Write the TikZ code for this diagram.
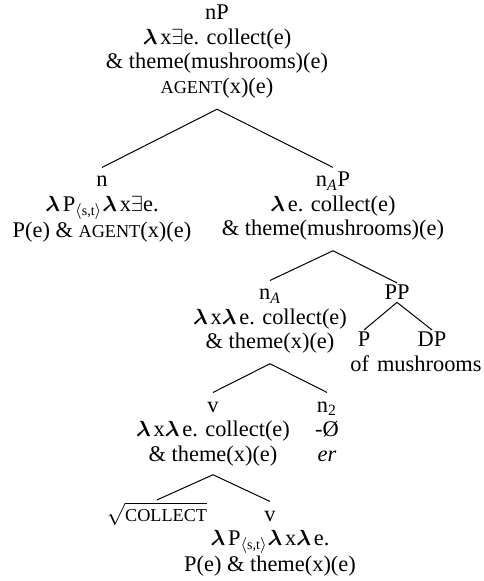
\documentclass[tikz,border=0pt]{standalone}
\usepackage{fontspec}
\setmainfont{Liberation Serif}
\newcommand{\treefont}{\fontsize{11.2}{12.25}\selectfont}
\newcommand{\sca}[1]{{\fontsize{9.1}{10}\selectfont #1}}
\newcommand{\tr}[1]{\begin{tabular}[t]{@{}c@{}}#1\end{tabular}}
\newcommand{\lam}{{\boldmath$\lambda\mkern2mu$}}
\newcommand{\ex}{$\exists$}
\newcommand{\st}{$_{\langle\mbox{\fontsize{7}{8}\selectfont s,t}\rangle}$}
\tikzset{
  tn/.style={inner sep=1pt, anchor=base, font=\treefont},
  br/.style={line width=0.5pt}
}
\begin{document}
\begin{tikzpicture}[x=0.5pt,y=-0.5pt]
\useasboundingbox (0,0) rectangle (483,581);
\node[tn] (nP) at (217,20) {\tr{nP\\ \lam x\ex e. collect(e)\\ \& theme(mushrooms)(e)\\ \sca{AGENT}(x)(e)}};
\node[tn] (n) at (102,187) {\tr{n\\ \lam P\st\lam x\ex e.\\ P(e) \& \sca{AGENT}(x)(e)}};
\node[tn] (nAP) at (333,187) {\tr{n\textsubscript{\itshape A}P\\ \lam e. collect(e)\\ \& theme(mushrooms)(e)}};
\node[tn] (nA) at (270,300) {\tr{n\textsubscript{\itshape A}\\ \lam x\lam e. collect(e)\\ \& theme(x)(e)}};
\node[tn] (PP) at (397,300) {PP};
\node[tn] (P) at (364,347) {P};
\node[tn] (DP) at (432,347) {DP};
\node[tn] (ofm) at (416,371) {of\hspace{4pt}mushrooms};
\node[tn] (v1) at (213,412) {\tr{v\\ \lam x\lam e. collect(e)\\ \& theme(x)(e)}};
\node[tn] (n2) at (327,412) {\tr{n\textsubscript{2}\\ -Ø\\ \textit{er}}};
\node[tn] (root) at (157,521) {$\sqrt{\mbox{\sca{COLLECT}}}$};
\node[tn] (v2) at (270,521) {\tr{v\\ \lam P\st\lam x\lam e.\\ P(e) \& theme(x)(e)}};
\draw[br] (n.north) -- ([yshift=-3pt]nP.south) -- (nAP.north);
\draw[br] (nA.north) -- ([yshift=-2.5pt]nAP.south) -- (PP.north);
\draw[br] (P.north) -- (PP.south) -- (DP.north);
\draw[br] (v1.north) -- ([yshift=-2.5pt]nA.south) -- (n2.north);
\draw[br] (root.north) -- ([yshift=-2pt]v1.south) -- (v2.north);
\end{tikzpicture}
\end{document}
